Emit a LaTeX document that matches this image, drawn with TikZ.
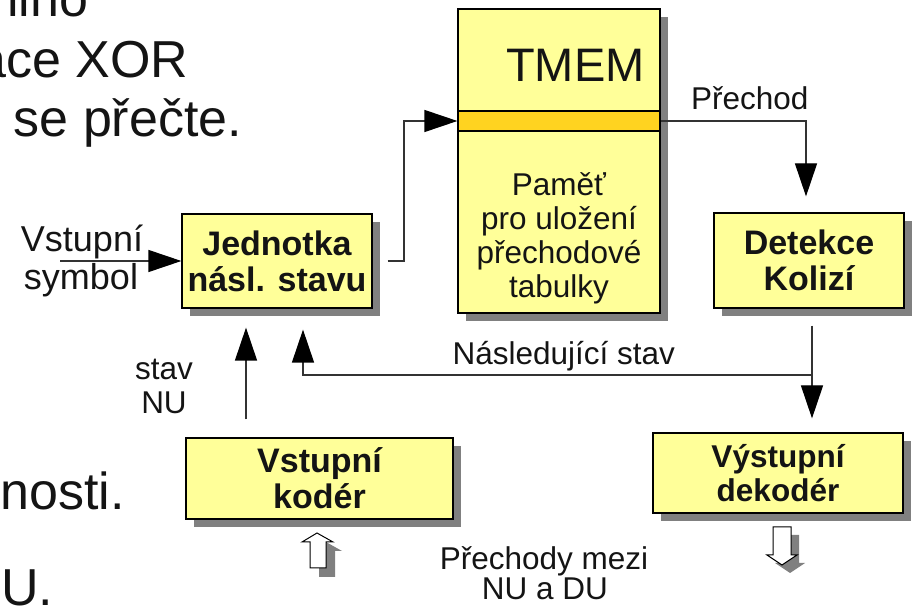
\documentclass[tikz,border=0pt]{standalone}
\usepackage{fontspec}
\setmainfont{Liberation Sans}
\usetikzlibrary{arrows.meta,shadows}

\definecolor{boxfill}{HTML}{FFFF99}
\definecolor{barfill}{HTML}{FFD320}
\definecolor{shade}{HTML}{808080}
\definecolor{wire}{HTML}{333333}
\definecolor{ink}{HTML}{141414}

\tikzset{
  block/.style={draw=black, line width=1.2pt, fill=boxfill, inner sep=0pt,
    align=center, text=ink, font=\bfseries\fontsize{34}{36}\selectfont,
    drop shadow={shadow xshift=8pt, shadow yshift=-8pt, fill=shade, opacity=1}},
  lab/.style={inner sep=0pt, text=ink, font=\fontsize{31.5}{34}\selectfont},
  bigtext/.style={inner sep=0pt, anchor=base west, text=ink, font=\fontsize{52}{60}\selectfont},
  wireline/.style={draw=wire, line width=1.2pt},
  arr/.style={wireline, -{Triangle[length=33pt,width=22pt,color=black]}},
  hollow/.style={draw=black, line width=1pt, fill=white},
  hollowshade/.style={fill=shade},
}

\begin{document}
\begin{tikzpicture}[x=1pt,y=-1pt]
\useasboundingbox (0,0) rectangle (914,609);
\clip (0,0) rectangle (914,609);

% slide text running behind the diagram
\node[bigtext] (t1) at (7,17) {lino};
\node[bigtext] (t2) at (-23,78) {ace XOR};
\node[bigtext] (t3) at (13.5,137) {se přečte.};
\node[bigtext] (t4) at (0,510) {nosti.};
\node[bigtext] (t5) at (1,606) {U.};

% blocks
\node[block, minimum width=190pt, minimum height=94pt] (jed) at (277,261) {Jednotka\\násl. stavu};
\node[block, minimum width=202pt, minimum height=304pt] (tmem) at (559,161) {};
\node[draw=black, line width=1.2pt, fill=barfill, inner sep=0pt,
      minimum width=202pt, minimum height=20pt] (bar) at (559,121) {};
\node[inner sep=0pt, anchor=base west, text=ink, font=\fontsize{47}{50}\selectfont] (tmemt) at (506,82) {TMEM};
\node[lab, align=center] (tmemb) at (559,238) {Paměť\\pro uložení\\přechodové\\tabulky};
\node[block, minimum width=190pt, minimum height=95pt] (det) at (809,260.5) {Detekce\\Kolizí};
\node[block, minimum width=267pt, minimum height=81pt] (kod) at (319.5,478.5) {Vstupní\\kodér};
\node[block, minimum width=250pt, minimum height=80pt,
      font=\bfseries\fontsize{31.5}{34}\selectfont] (dek) at (778,473) {Výstupní\\dekodér};

% labels
\node[lab, anchor=base, font=\fontsize{36}{38}\selectfont] (sym1) at (82,252) {Vstupní};
\node[lab, anchor=base, font=\fontsize{36}{38}\selectfont] (sym2) at (81,290) {symbol};
\node[lab, anchor=base west] (pre) at (691,110) {Přechod};
\node[lab, anchor=base west] (nasl) at (452.5,365) {Následující stav};
\node[lab, anchor=base] (stav1) at (164,380) {stav};
\node[lab, anchor=base] (stav2) at (164,414) {NU};
\node[lab, anchor=base] (prm1) at (544,570) {Přechody mezi};
\node[lab, anchor=base] (prm2) at (545,600) {NU a DU};

% connector points
\coordinate (insym) at (60,261);
\coordinate (jout) at ([xshift=15pt]jed.east);
\coordinate (jbend) at (404,121);
\coordinate (dtop) at ([xshift=-3pt]det.north);
\coordinate (dout) at ([xshift=3pt,yshift=-17pt]det.south);
\coordinate (jn) at (812,375);
\coordinate (nl) at (303,375);
\coordinate (kx) at (246,400);

% connectors
\draw[arr] (insym) -- (jed.west);
\draw[arr] (jout) -| (jbend) -- (bar.west);
\draw[arr, shorten >=16pt] (bar.east) -| (dtop);
\draw[wireline] (dout) -- (jn);
\draw[arr, shorten >=14pt] (jn) -- (jn |- dek.north);
\draw[arr, shorten >=21pt] (jn) -- (nl) -- (nl |- jed.south);
\draw[arr, shorten <=18pt, shorten >=19pt] (kx |- kod.north) -- (kx |- jed.south);

% hollow block arrows below the coders
\foreach \dx/\st in {9/hollowshade,0/hollow}{
  \path[\st, shift={(\dx,\dx)}] (317,533) -- (333,542) -- (326,542) -- (326,568)
    -- (310,568) -- (310,542) -- (302,542) -- cycle;
}
\foreach \dx/\st in {8/hollowshade,0/hollow}{
  \path[\st, shift={(\dx,\dx)}] (773,527) -- (791,527) -- (791,555) -- (797,555)
    -- (782,565) -- (767,555) -- (773,555) -- cycle;
}
\end{tikzpicture}
\end{document}
